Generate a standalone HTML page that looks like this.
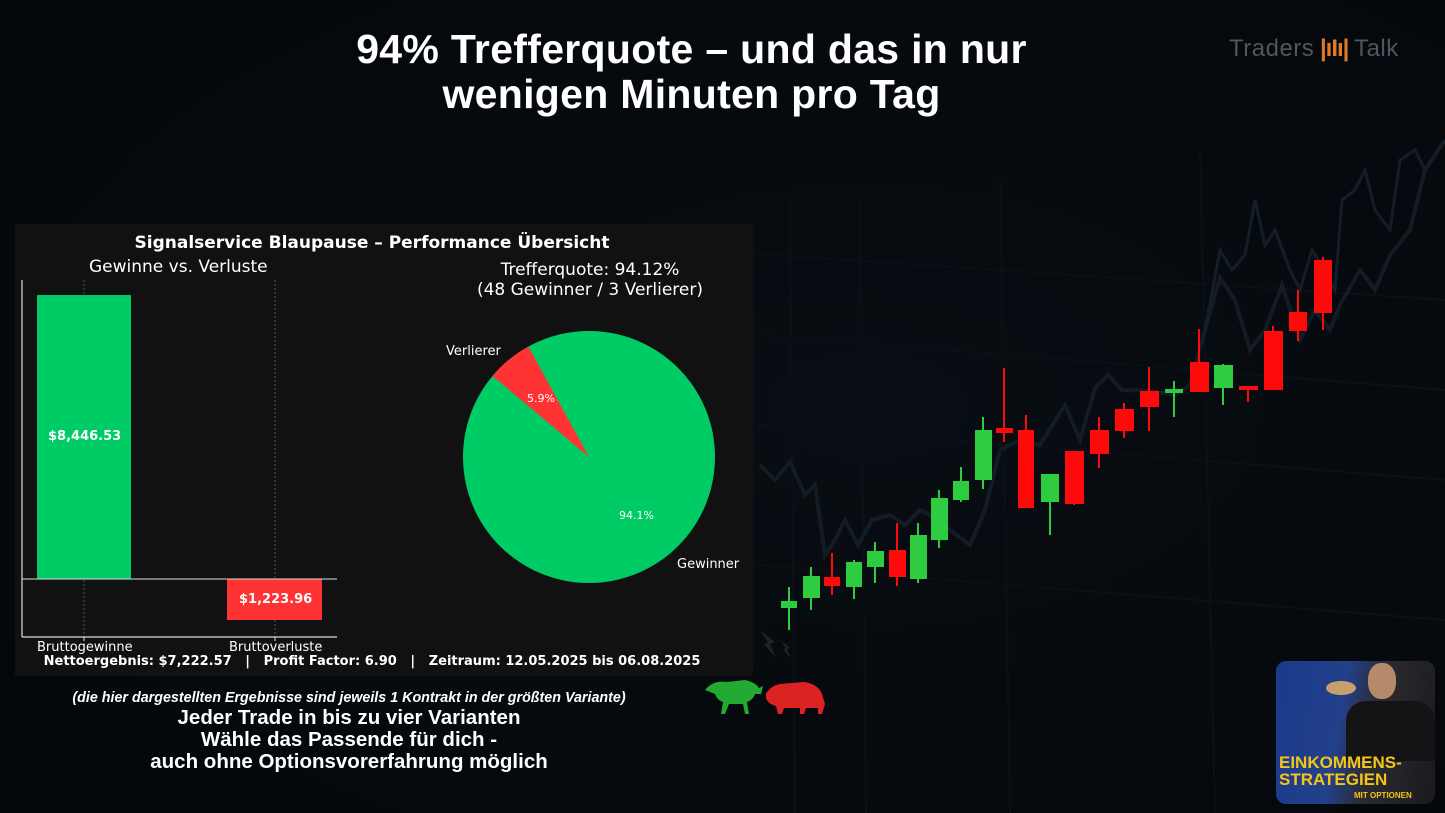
<!DOCTYPE html>
<html><head><meta charset="utf-8"><style>
html,body{margin:0;padding:0}
body{width:1445px;height:813px;background:#05080c;position:relative;overflow:hidden;font-family:"Liberation Sans","DejaVu Sans",sans-serif;color:#fff}
.t{position:absolute;white-space:nowrap}
.d{font-family:"DejaVu Sans","Liberation Sans",sans-serif}
</style></head><body>
<svg width="1445" height="813" style="position:absolute;left:0;top:0">
<defs><radialGradient id="g" cx="0.6" cy="0.5" r="0.7"><stop offset="0" stop-color="#090e14"/><stop offset="1" stop-color="#04070a"/></radialGradient></defs>
<rect width="1445" height="813" fill="url(#g)"/>
<g stroke="#0b1017" stroke-width="2" fill="none">
<path d="M700 250 L1445 300"/><path d="M700 330 L1445 390"/><path d="M700 420 L1445 480"/><path d="M700 560 L1445 620"/>
<path d="M790 200 L795 813"/><path d="M860 200 L866 813"/><path d="M1000 180 L1010 813"/><path d="M1200 150 L1215 813"/>
</g>
<path d="M760 465 L775 480 L790 462 L805 495 L815 485 L825 555 L835 540 L845 520 L858 545 L872 520 L890 515 L905 525 L920 510 L935 518 L950 530 L970 545 L985 510 L1000 450 L1020 440 L1040 445 L1065 405 L1080 440 L1095 388 L1108 375 L1122 390 L1150 391 L1175 395 L1190 385 L1205 330 L1220 278 L1235 300 L1250 350 L1265 330 L1282 285 L1300 340 L1315 310 L1330 330 L1340 305 L1360 270 L1375 290 L1390 255 L1410 230 L1425 170 L1445 140" stroke="#162029" stroke-width="4" fill="none" opacity="0.8"/>
<path d="M1205 330 L1220 250 L1232 270 L1245 255 L1255 200 L1265 245 L1275 230 L1290 270 L1300 290 L1312 250 L1325 270 L1335 290 L1342 200 L1355 190 L1365 170 L1375 210 L1390 230 L1400 160 L1415 150 L1425 170 L1445 140" stroke="#141e29" stroke-width="3" fill="none"/>
</svg>
<svg width="1445" height="813" style="position:absolute;left:0;top:0">
<g stroke-width="2">
<g stroke="#2ecc40" fill="#2ecc40">
<line x1="789" y1="587" x2="789" y2="630"/><rect x="782" y="602" width="14" height="5"/>
<line x1="811" y1="567" x2="811" y2="610"/><rect x="804" y="577" width="15" height="20"/>
<line x1="854" y1="560" x2="854" y2="599"/><rect x="847" y="563" width="14" height="23"/>
<line x1="875" y1="542" x2="875" y2="583"/><rect x="868" y="552" width="15" height="14"/>
<line x1="918" y1="523" x2="918" y2="583"/><rect x="911" y="536" width="15" height="42"/>
<line x1="939" y1="490" x2="939" y2="548"/><rect x="932" y="499" width="15" height="40"/>
<line x1="961" y1="467" x2="961" y2="502"/><rect x="954" y="482" width="14" height="17"/>
<line x1="983" y1="417" x2="983" y2="489"/><rect x="976" y="431" width="15" height="48"/>
<line x1="1050" y1="475" x2="1050" y2="535"/><rect x="1042" y="475" width="16" height="26"/>
<line x1="1174" y1="381" x2="1174" y2="417"/><rect x="1166" y="390" width="16" height="2"/>
<line x1="1223" y1="364" x2="1223" y2="405"/><rect x="1215" y="366" width="17" height="21"/>
</g>
<g stroke="#ff0a0a" fill="#ff0a0a">
<line x1="832" y1="553" x2="832" y2="595"/><rect x="825" y="578" width="14" height="7"/>
<line x1="897" y1="523" x2="897" y2="586"/><rect x="890" y="551" width="15" height="25"/>
<line x1="1004" y1="368" x2="1004" y2="442"/><rect x="997" y="429" width="15" height="3"/>
<line x1="1026" y1="415" x2="1026" y2="507"/><rect x="1019" y="431" width="14" height="76"/>
<line x1="1074" y1="452" x2="1074" y2="505"/><rect x="1066" y="452" width="17" height="51"/>
<line x1="1099" y1="417" x2="1099" y2="468"/><rect x="1091" y="431" width="17" height="22"/>
<line x1="1124" y1="403" x2="1124" y2="438"/><rect x="1116" y="410" width="17" height="20"/>
<line x1="1149" y1="367" x2="1149" y2="431"/><rect x="1141" y="392" width="17" height="14"/>
<line x1="1199" y1="329" x2="1199" y2="391"/><rect x="1191" y="363" width="17" height="28"/>
<line x1="1248" y1="387" x2="1248" y2="402"/><rect x="1240" y="387" width="17" height="2"/>
<line x1="1273" y1="326" x2="1273" y2="389"/><rect x="1265" y="332" width="17" height="57"/>
<line x1="1298" y1="290" x2="1298" y2="341"/><rect x="1290" y="313" width="16" height="17"/>
<line x1="1323" y1="257" x2="1323" y2="330"/><rect x="1315" y="261" width="16" height="51"/>
</g>
</g>
</svg>

<div class="t" style="left:0;width:1383px;top:27px;text-align:center;font-size:41px;font-weight:bold;line-height:45px;letter-spacing:0.3px">94% Trefferquote – und das in nur<br>wenigen Minuten pro Tag</div>
<div class="t" style="left:1229px;top:35px;font-size:24px;color:#50565d;letter-spacing:0.5px">Traders<span style="color:#e07a28;font-weight:bold;letter-spacing:-1px"> |ıIı| </span>Talk</div>

<div style="position:absolute;left:15px;top:224px;width:738px;height:452px;background:#111111"></div>
<div class="t d" style="left:0px;width:744px;top:233px;text-align:center;font-size:17px;font-weight:bold">Signalservice Blaupause – Performance Übersicht</div>
<div class="t d" style="left:89px;top:257px;font-size:17px">Gewinne vs. Verluste</div>
<div class="t d" style="left:440px;width:300px;top:260px;text-align:center;font-size:17px;line-height:20px">Trefferquote: 94.12%<br>(48 Gewinner / 3 Verlierer)</div>
<svg width="1445" height="813" style="position:absolute;left:0;top:0">
<line x1="84" y1="280" x2="84" y2="637" stroke="#666" stroke-dasharray="2,2" stroke-width="0.8"/>
<line x1="275" y1="280" x2="275" y2="637" stroke="#666" stroke-dasharray="2,2" stroke-width="0.8"/>
<rect x="37" y="295" width="94" height="284" fill="#00cc66"/>
<rect x="227" y="579" width="95" height="41" fill="#ff3333"/>
<line x1="22" y1="579" x2="337" y2="579" stroke="#ddd" stroke-width="1"/>
<line x1="22" y1="280" x2="22" y2="637" stroke="#ddd" stroke-width="1.2"/>
<line x1="22" y1="637" x2="337" y2="637" stroke="#ddd" stroke-width="1.2"/>
<line x1="84" y1="637" x2="84" y2="641" stroke="#ddd"/><line x1="275" y1="637" x2="275" y2="641" stroke="#ddd"/>
<circle cx="589" cy="457" r="126" fill="#00cc66"/>
<path d="M589 457 L528.3 346.6 A126 126 0 0 0 492.5 376 Z" fill="#ff3333"/>
<path d="M705 690 q8 -10 22 -8 l18 -2 q10 2 14 8 l4 -2 l-2 8 l-6 0 q-2 6 -8 8 l2 12 l-4 0 l-2 -10 l-14 0 l-4 10 l-4 0 l2 -12 q-6 -2 -8 -8 z" fill="#22aa33"/>
<path d="M766 694 q4 -8 14 -10 l24 -2 q14 2 18 12 l3 10 l-3 10 l-4 0 l0 -6 l-12 0 l-2 6 l-4 0 l0 -6 l-16 0 l-2 6 l-4 0 l-2 -8 q-8 -2 -10 -8 z" fill="#dd2222"/>
<path d="M760 630 l8 12 l-4 2 l12 14 l-6 -14 l5 -2 z M780 640 l6 8 l-3 1 l8 10 l-4 -10 l3 -1 z" fill="#222"/>
</svg>
<div class="t d" style="left:48px;top:429px;font-size:13px;font-weight:bold">$8,446.53</div>
<div class="t d" style="left:239px;top:592px;font-size:13px;font-weight:bold">$1,223.96</div>
<div class="t d" style="left:37px;top:640px;font-size:13px">Bruttogewinne</div>
<div class="t d" style="left:229px;top:640px;font-size:13px">Bruttoverluste</div>
<div class="t d" style="left:446px;top:344px;font-size:13px">Verlierer</div>
<div class="t d" style="left:677px;top:557px;font-size:13px">Gewinner</div>
<div class="t d" style="left:527px;top:392px;font-size:11px">5.9%</div>
<div class="t d" style="left:619px;top:509px;font-size:11px">94.1%</div>
<div class="t d" style="left:15px;width:714px;top:654px;text-align:center;font-size:13px;font-weight:bold">Nettoergebnis: $7,222.57 &nbsp; | &nbsp; Profit Factor: 6.90 &nbsp; | &nbsp; Zeitraum: 12.05.2025 bis 06.08.2025</div>

<div class="t" style="left:0;width:698px;top:690px;text-align:center;font-size:14.3px;font-weight:bold;font-style:italic">(die hier dargestellten Ergebnisse sind jeweils 1 Kontrakt in der größten Variante)</div>
<div class="t" style="left:0;width:698px;top:707px;text-align:center;font-size:20.5px;font-weight:bold;line-height:22px">Jeder Trade in bis zu vier Varianten<br>Wähle das Passende für dich -<br>auch ohne Optionsvorerfahrung möglich</div>

<div style="position:absolute;left:1276px;top:661px;width:159px;height:143px;border-radius:10px;overflow:hidden;background:linear-gradient(100deg,#1a3a8a 0%,#23408a 40%,#2a2a30 60%,#1b1b1e 100%)">
<div style="position:absolute;left:50px;top:20px;width:30px;height:14px;background:#c8a070;border-radius:50%"></div>
<div style="position:absolute;left:92px;top:2px;width:28px;height:36px;background:#b58a6a;border-radius:45%"></div>
<div style="position:absolute;left:70px;top:40px;width:89px;height:60px;background:#141416;border-radius:20px 20px 0 0"></div>
<div style="position:absolute;left:3px;top:93px;font-size:17px;font-weight:bold;color:#f5c518;line-height:17px">EINKOMMENS-<br>STRATEGIEN</div>
<div style="position:absolute;left:78px;top:130px;font-size:8px;font-weight:bold;color:#f5c518">MIT OPTIONEN</div>
</div>
</body></html>
